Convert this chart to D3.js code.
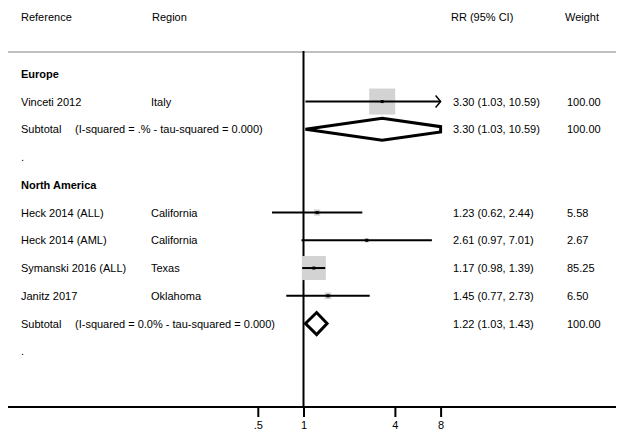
<!DOCTYPE html>
<html>
<head>
<meta charset="utf-8">
<script src="https://cdn.jsdelivr.net/npm/d3@7"></script>
<style>
  html, body { margin: 0; padding: 0; background: #fff; }
  svg { display: block; font-family: "Liberation Sans", Arial, Helvetica, sans-serif; }
  text { white-space: pre; }
</style>
</head>
<body>
<svg id="chart" width="617" height="436"></svg>
<script>
// Forest plot: relative risk by study, grouped by region

const groups = ["Europe", "North America"];

const studyRef    = ["Vinceti 2012", "Heck 2014 (ALL)", "Heck 2014 (AML)", "Symanski 2016 (ALL)", "Janitz 2017"];
const studyRegion = ["Italy", "California", "California", "Texas", "Oklahoma"];
const studyGroup  = [0, 1, 1, 1, 1];
const studyRR     = [3.30, 1.23, 2.61, 1.17, 1.45];
const studyLo     = [1.03, 0.62, 0.97, 0.98, 0.77];
const studyHi     = [10.59, 2.44, 7.01, 1.39, 2.73];
const studyWeight = [100.00, 5.58, 2.67, 85.25, 6.50];

const subHet    = ["(I-squared = .% - tau-squared = 0.000)",
                   "(I-squared = 0.0% - tau-squared = 0.000)"];
const subRR     = [3.30, 1.22];
const subLo     = [1.03, 1.03];
const subHi     = [10.59, 1.43];
const subWeight = [100.00, 100.00];

const tickValues = [0.5, 1, 4, 8];
const tickLabels = [".5", "1", "4", "8"];

const headers = ["Reference", "Region", "RR (95% CI)", "Weight"];

// ---- layout ----
const W = 617, H = 436;
const colX = { ref: 21, het: 75, region: 151, ci: 453, weight: 567 };
const headerColX = [21, 152, 451, 565];
const headerLineY = 52;
const axisY = 407;
const fontSize = 11;

// Build row list: group header, studies, subtotal, spacer
const rows = [];
groups.forEach((g, gi) => {
  rows.push({ type: "group", label: g });
  studyRef.forEach((r, i) => {
    if (studyGroup[i] === gi) rows.push({ type: "study", i });
  });
  rows.push({ type: "subtotal", i: gi });
  rows.push({ type: "spacer" });
});

const y = d3.scaleLinear().domain([0, rows.length - 1]).range([73.8, 351.3]);
const x = d3.scaleLog().base(2).domain([0.5, 8]).range([257.8, 440.6]);
const [xMin, xMax] = x.domain();
const boxSide = d3.scaleSqrt().domain([0, 100]).range([0, 26]);
const fmt = d3.format(".2f");

const svg = d3.select("#chart");

// column headers
svg.append("g").selectAll("text").data(headers).join("text")
  .attr("x", (d, i) => headerColX[i]).attr("y", 21)
  .attr("font-size", fontSize).attr("fill", "#000").text(d => d);

// header rule
svg.append("line")
  .attr("x1", 8).attr("x2", 616).attr("y1", headerLineY).attr("y2", headerLineY)
  .attr("stroke", "#c0c0c0").attr("stroke-width", 2);

// null line at RR = 1
svg.append("line")
  .attr("x1", x(1)).attr("x2", x(1)).attr("y1", headerLineY - 1).attr("y2", axisY)
  .attr("stroke", "#000").attr("stroke-width", 2);

const body = svg.append("g");

rows.forEach((row, ri) => {
  const cy = y(ri);
  const by = cy + 4;
  if (row.type === "group") {
    body.append("text").attr("x", colX.ref).attr("y", by)
      .attr("font-size", fontSize).attr("font-weight", "bold").text(row.label);
  } else if (row.type === "spacer") {
    body.append("text").attr("x", colX.ref).attr("y", by)
      .attr("font-size", fontSize).text(".");
  } else if (row.type === "study") {
    const i = row.i;
    body.append("text").attr("x", colX.ref).attr("y", by).attr("font-size", fontSize).text(studyRef[i]);
    body.append("text").attr("x", colX.region).attr("y", by).attr("font-size", fontSize).text(studyRegion[i]);
    body.append("text").attr("x", colX.ci).attr("y", by).attr("font-size", fontSize)
      .text(`${fmt(studyRR[i])} (${fmt(studyLo[i])}, ${fmt(studyHi[i])})`);
    body.append("text").attr("x", colX.weight).attr("y", by).attr("font-size", fontSize)
      .text(fmt(studyWeight[i]));

    // weight box
    const s = boxSide(studyWeight[i]);
    body.append("rect")
      .attr("x", x(studyRR[i]) - s / 2).attr("y", cy - s / 2)
      .attr("width", s).attr("height", s).attr("fill", "#d3d3d3");

    // confidence interval, clipped to the axis range
    const lo = Math.max(studyLo[i], xMin), hi = Math.min(studyHi[i], xMax);
    body.append("line")
      .attr("x1", x(lo)).attr("x2", x(hi)).attr("y1", cy).attr("y2", cy)
      .attr("stroke", "#000").attr("stroke-width", 2);
    if (studyHi[i] > xMax) {
      const ax = x(xMax);
      body.append("path")
        .attr("d", `M${ax - 5},${cy - 6} L${ax},${cy} L${ax - 5},${cy + 6}`)
        .attr("fill", "none").attr("stroke", "#000").attr("stroke-width", 1.5);
    }
    if (studyLo[i] < xMin) {
      const ax = x(xMin);
      body.append("path")
        .attr("d", `M${ax + 5},${cy - 6} L${ax},${cy} L${ax + 5},${cy + 6}`)
        .attr("fill", "none").attr("stroke", "#000").attr("stroke-width", 1.5);
    }
    // point estimate
    body.append("rect")
      .attr("x", x(studyRR[i]) - 1.5).attr("y", cy - 1.5)
      .attr("width", 3).attr("height", 3).attr("fill", "#000");
  } else if (row.type === "subtotal") {
    const i = row.i;
    const t = body.append("text").attr("y", by).attr("font-size", fontSize);
    t.append("tspan").attr("x", colX.ref).text("Subtotal");
    t.append("tspan").attr("x", colX.het).text(subHet[i]);
    body.append("text").attr("x", colX.ci).attr("y", by).attr("font-size", fontSize)
      .text(`${fmt(subRR[i])} (${fmt(subLo[i])}, ${fmt(subHi[i])})`);
    body.append("text").attr("x", colX.weight).attr("y", by).attr("font-size", fontSize)
      .text(fmt(subWeight[i]));

    // pooled-estimate diamond, clipped at the axis limits
    const h = 11;
    const xl = x(subLo[i]), xc = x(subRR[i]), xr = x(subHi[i]);
    const pts = [];
    if (subLo[i] < xMin) {
      const cx = x(xMin), f = (xc - cx) / (xc - xl);
      pts.push([cx, cy + h * (1 - f)], [cx, cy - h * (1 - f)]);
    } else {
      pts.push([xl, cy]);
    }
    pts.push([xc, cy - h]);
    if (subHi[i] > xMax) {
      const cx = x(xMax), f = (cx - xc) / (xr - xc);
      pts.push([cx, cy - h * (1 - f)], [cx, cy + h * (1 - f)]);
    } else {
      pts.push([xr, cy]);
    }
    pts.push([xc, cy + h]);
    body.append("path")
      .attr("d", d3.line()(pts) + "Z")
      .attr("fill", "none").attr("stroke", "#000").attr("stroke-width", 3)
      .attr("stroke-linejoin", "miter");
  }
});

// x axis
svg.append("line")
  .attr("x1", 8).attr("x2", 616).attr("y1", axisY).attr("y2", axisY)
  .attr("stroke", "#000").attr("stroke-width", 2);

const axis = d3.axisBottom(x)
  .tickValues(tickValues)
  .tickFormat((d, i) => tickLabels[i])
  .tickSize(10).tickPadding(4);

const axisG = svg.append("g").attr("transform", `translate(0,${axisY})`).call(axis);
axisG.select(".domain").remove();
axisG.selectAll(".tick line").attr("stroke", "#000").attr("stroke-width", 2);
axisG.selectAll(".tick text").attr("font-size", fontSize).attr("fill", "#000")
  .attr("font-family", "Liberation Sans, Arial, sans-serif");
</script>
</body>
</html>
